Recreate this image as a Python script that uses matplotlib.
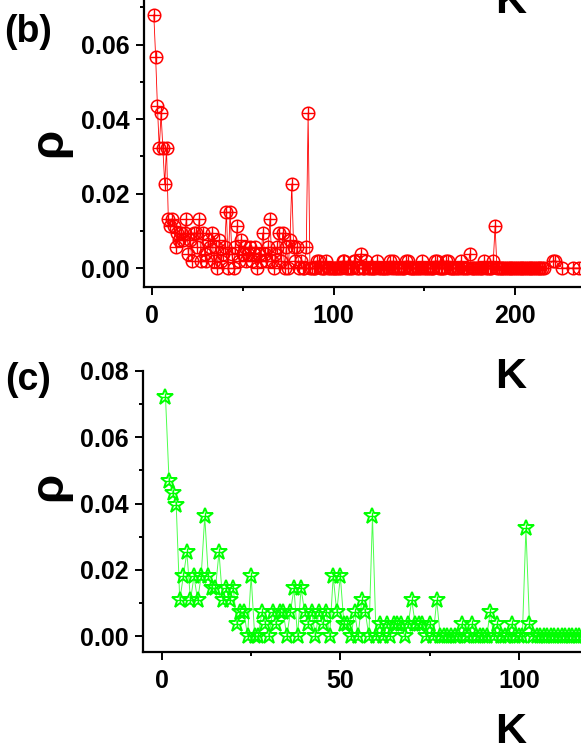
import numpy as np
import matplotlib
matplotlib.use("Agg")
import matplotlib.pyplot as plt
from matplotlib.ticker import MultipleLocator, FormatStrFormatter

plt.rcParams['font.family'] = ['Liberation Sans', 'DejaVu Sans']

# panel (b): degree distribution, K = 1..87 read point by point
rho_b_head = [0.0680, 0.0568, 0.0434, 0.0321, 0.0415, 0.0321, 0.0226, 0.0321, 0.0132, 0.0113,
              0.0132, 0.0113, 0.0057, 0.0094, 0.0075, 0.0094, 0.0075, 0.0094, 0.0132, 0.0038,
              0.0075, 0.0019, 0.0094, 0.0094, 0.0057, 0.0132, 0.0019, 0.0094, 0.0038, 0.0019,
              0.0075, 0.0057, 0.0094, 0.0019, 0.0057, 0.0, 0.0075, 0.0019, 0.0038, 0.0057,
              0.0151, 0.0, 0.0151, 0.0038, 0.0, 0.0057, 0.0113, 0.0019, 0.0075, 0.0038,
              0.0057, 0.0019, 0.0038, 0.0057, 0.0019, 0.0038, 0.0057, 0.0, 0.0038, 0.0019,
              0.0094, 0.0038, 0.0019, 0.0057, 0.0132, 0.0019, 0.0, 0.0038, 0.0057, 0.0094,
              0.0019, 0.0094, 0.0, 0.0057, 0.0, 0.0075, 0.0226, 0.0057, 0.0019, 0.0057,
              0.0, 0.0019, 0.0, 0.0, 0.0057, 0.0416, 0.0]
# K = 88..216: zero except these
tail_k_b = [91, 92, 96, 105, 106, 111, 112, 115, 118, 124, 131, 133, 140, 141, 149,
            156, 157, 162, 163, 170, 175, 183, 188, 189]
tail_rho_b = [0.0019, 0.0019, 0.0019, 0.0019, 0.0019, 0.0019, 0.0019, 0.0038, 0.0019, 0.0019,
              0.0019, 0.0019, 0.0019, 0.0019, 0.0019, 0.0019, 0.0019, 0.0019, 0.0019, 0.0019,
              0.0038, 0.0019, 0.0019, 0.0113]
# isolated points past the gap
far_k_b = [221, 222, 226, 232, 235, 240]
far_rho_b = [0.0019, 0.0019, 0.0, 0.0, 0.0, 0.0]

# panel (c): K = 1..103 read point by point, then zeros
rho_c_head = [0.0722, 0.0469, 0.0433, 0.0397, 0.0108, 0.0181, 0.0253, 0.0108, 0.0181, 0.0108,
              0.0181, 0.0361, 0.0181, 0.0144, 0.0144, 0.0253, 0.0108, 0.0144, 0.0108, 0.0144,
              0.0036, 0.0072, 0.0072, 0.0, 0.0181, 0.0, 0.0, 0.0072, 0.0036, 0.0,
              0.0072, 0.0036, 0.0072, 0.0072, 0.0, 0.0072, 0.0144, 0.0, 0.0144, 0.0072,
              0.0036, 0.0072, 0.0, 0.0072, 0.0036, 0.0072, 0.0, 0.0181, 0.0072, 0.0181,
              0.0036, 0.0036, 0.0, 0.0072, 0.0, 0.0108, 0.0072, 0.0, 0.0361, 0.0,
              0.0036, 0.0, 0.0036, 0.0, 0.0036, 0.0036, 0.0036, 0.0, 0.0036, 0.0108,
              0.0036, 0.0036, 0.0036, 0.0, 0.0036, 0.0, 0.0108, 0.0, 0.0, 0.0,
              0.0, 0.0, 0.0, 0.0036, 0.0, 0.0, 0.0036, 0.0, 0.0, 0.0,
              0.0, 0.0072, 0.0, 0.0036, 0.0, 0.0, 0.0, 0.0036, 0.0, 0.0,
              0.0, 0.0325, 0.0036]
k_c_max = 125

# assemble series
k_b = list(range(1, 217))
rho_b = list(rho_b_head) + [0.0] * (216 - len(rho_b_head))
for k, r in zip(tail_k_b, tail_rho_b):
    rho_b[k - 1] = r
k_b += far_k_b
rho_b += far_rho_b

k_c = list(range(1, k_c_max + 1))
rho_c = list(rho_c_head) + [0.0] * (k_c_max - len(rho_c_head))

W, H = 581, 752
fig = plt.figure(figsize=(W / 100, H / 100), dpi=100)


def px_axes(left, top, right, bottom):
    return fig.add_axes([left / W, 1 - bottom / H, (right - left) / W, (bottom - top) / H])


def style(ax, xmaj, xmin):
    for s in ['top', 'right']:
        ax.spines[s].set_visible(False)
    for s in ['left', 'bottom']:
        ax.spines[s].set_linewidth(1.6)
    ax.xaxis.set_major_locator(MultipleLocator(xmaj))
    ax.xaxis.set_minor_locator(MultipleLocator(xmin))
    ax.yaxis.set_major_locator(MultipleLocator(0.02))
    ax.yaxis.set_minor_locator(MultipleLocator(0.01))
    ax.yaxis.set_major_formatter(FormatStrFormatter('%.2f'))
    ax.tick_params(which='major', direction='out', length=5.5, width=1.4, labelsize=18,
                   pad=5)
    ax.tick_params(which='minor', direction='out', length=3, width=1.4)
    ax.tick_params(axis='x', which='major', pad=7)
    for lab in ax.get_xticklabels() + ax.get_yticklabels():
        lab.set_fontweight('bold')


red = '#FF0000'
green = '#00FF00'

# (b)
axb = px_axes(144, -12, 624, 287)
axb.plot(k_b, rho_b, '-', color=red, lw=0.6, zorder=1)
axb.plot(k_b, rho_b, 'o', mfc='none', mec=red, mew=1.1, ms=9, zorder=2)
axb.plot(k_b, rho_b, '+', mec=red, mew=1.0, ms=9, zorder=2)
axb.set_xlim(-4.4, 260)
axb.set_ylim(-0.0051, 0.0752)
style(axb, 100, 50)

# (c)
axc = px_axes(143, 371, 608, 652)
axc.plot(k_c, rho_c, '-', color=green, lw=0.7, alpha=0.7, zorder=1)
axc.plot(k_c, rho_c, '*', mfc='none', mec=green, mew=1.4, ms=12, zorder=2)
axc.plot(k_c, rho_c, '+', mec=green, mew=1.0, ms=6, zorder=2)
axc.set_xlim(-5.3, 125)
axc.set_ylim(-0.0048, 0.08)
style(axc, 50, 25)

# labels in pixel positions
def fig_text(x, y, s, **kw):
    fig.text(x / W, 1 - y / H, s, **kw)

fig_text(28, 32, '(b)', fontsize=27, fontweight='bold', ha='center', va='center')
fig_text(28, 380, '(c)', fontsize=27, fontweight='bold', ha='center', va='center')
fig_text(49, 142, 'ρ', fontsize=34, fontweight='bold', rotation=90, ha='center', va='center')
fig_text(49, 486, 'ρ', fontsize=34, fontweight='bold', rotation=90, ha='center', va='center')
fig_text(511, 13, 'K', fontsize=31, fontweight='bold', ha='center', va='baseline')
fig_text(511, 388, 'K', fontsize=31, fontweight='bold', ha='center', va='baseline')
fig_text(511, 743, 'K', fontsize=31, fontweight='bold', ha='center', va='baseline')

fig.savefig('out.png', dpi=100)
